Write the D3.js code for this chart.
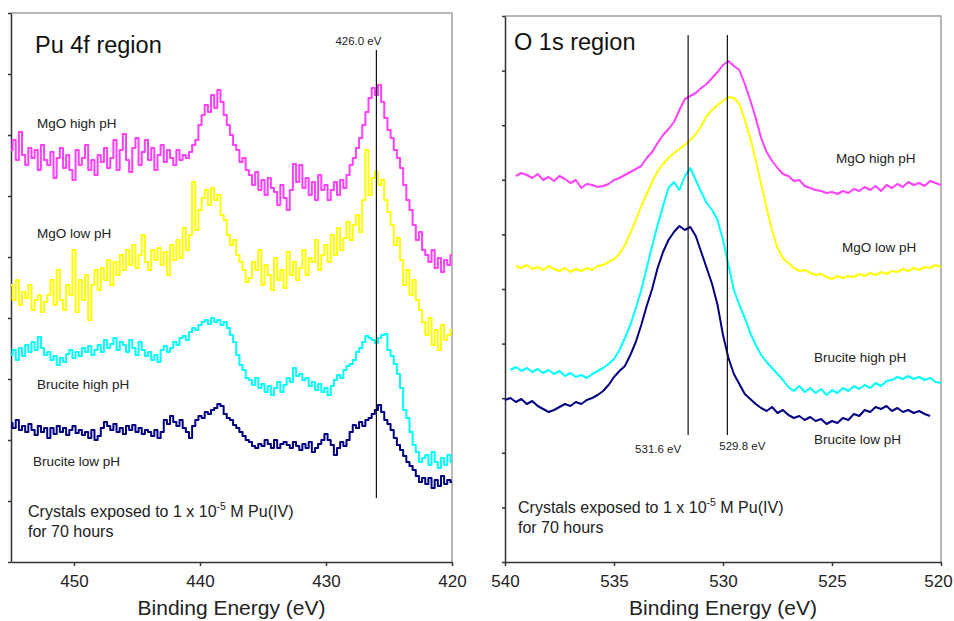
<html>
<head>
  <style>
    body {
      margin: 0;
      background: white;
      font-family: "Liberation Sans", Arial, Helvetica, sans-serif;
    }
  </style>
  <script src="https://cdn.jsdelivr.net/npm/d3@7"></script>
</head>
<body>
<svg id="chart" width="954" height="621"></svg>
<script>
  // ---- data (intensities in arbitrary counts) ----
  // Pu 4f region: sampled every 0.25 eV from 455 eV down to 420 eV
  const puStart = 455, puStep = 0.25
  const puMgoHigh = [412,422,402,430,407,397,414,404,412,392,417,402,
    397,410,384,404,414,394,407,392,382,412,397,404,417,392,402,387,407,400,414,394,
    404,422,392,412,428,402,390,414,424,397,410,422,402,414,392,407,417,400,412,404,397,412,402,407,
    404,410,417,422, 437,447, 457,450,467,454,472,460, 447,437,427,417, 412,400,404,392,
    387,377,390,372,382,367,384,374, 370,357,377,364,352,372,398,380,
    397,374,384,367,380,362,387,372, 377,362,372,380,367,382,374,387,
    397,404,414,424, 437,450, 464,474,467,477, 460,444, 432,424,412,404,
    394,377,362,352, 337,322,330,312, 307,300,312,294,304,290,302,297,307]
  const puMgoLow = [277,262,282,257,270,264,277,252,262,267,250,260,
    267,282,257,292,262,252,277,267,312,250,282,262,
    287,242,277,292,272,294,282,302,277,300,287,307,
    292,312,297,317,294,307,327,300,292,312,302,314,
    297,310,287,317,302,322,304,334, 312,327,380,332,
    352,364,372,357,374,362,367,347, 342,327,317,322, 307,300,292,280,
    284,300,292,312,277,297,287,272, 304,282,292,274,310,287,300,282,
    294,312,287,304,300,322,292,307, 317,300,327,307,334,312,324,340,
    322,337,347,330, 362,412,367,384, 390,377,382,362, 350,337,317,324,
    302,277,292,267, 282,262,252,240, 227,244,217,232,212,237,222,227,232]
  const puBruciteHigh = [207,212,202,214,206,217,210,220,212,225,214,207,
    210,202,206,197,204,200,208,212,204,210,206,214,
    210,216,207,212,217,210,222,214,218,224,212,220,
    217,210,222,214,207,220,212,206,210,202,207,200,
    212,216,210,214,220,217,224,226, 222,230,234,232,
    237,240,242,238,244,240,242,237, 240,234,227,220, 207,197,192,184,
    182,177,184,174,178,170,176,167, 174,180,170,177,184,180,194,186,
    188,182,184,176,180,172,178,170, 174,167,176,182,187,184,192,196,
    198,202,210,214, 220,226,224,222, 219,224,227,228, 212,206,198,188,
    174,152,144,130, 117,110,100,104, 107,97,110,100,94,104,97,107,100]
  const puBruciteLow = [139,134,142,132,136,130,138,132,127,136,130,134,
    124,134,128,136,130,134,127,132,136,129,132,127,
    130,124,132,122,126,134,140,136,132,138,130,134,
    128,136,132,137,130,134,128,132,130,126,132,124,
    130,142,138,146,140,136,142,134, 130,124,136,142,
    146,144,150,148,152,154,158,156, 148,144,142,137, 134,130,126,122,
    120,116,114,118,116,122,118,114, 122,114,118,120,117,114,120,116,
    112,118,114,120,110,114,118,122, 128,122,117,107,114,120,116,122,
    130,137,134,140, 136,142,144,148, 152,157,150,142, 138,132,124,117,
    112,106,100,96, 92,86,80,84, 78,84,74,82,76,86,78,82,80]

  // O 1s region: sampled every 0.25 eV, each series with its own first energy
  const oStep = 0.25
  const oStarts = [539.5, 539.5, 539.75, 540]
  const oMgoHigh = [386,389,387,384,388,382,385,381,386,383,
    379,382,374,378,377,375,376,378,382,384,
    387,390,393,396,404,410,419,427,433,440,
    452,463,466,469,474,478,484,490,497,501,
    496,492,478,462,444,424,410,401,394,388,
    386,381,382,376,374,372,371,369,370,368,
    371,369,373,371,375,372,376,371,377,374,
    378,375,380,377,379,376,381,379,377]
  const oMgoLow = [296,294,297,293,295,292,296,293,291,294,
    290,293,291,294,292,296,297,300,303,308,
    317,329,342,356,368,380,391,398,404,409,
    413,417,422,428,436,446,452,457,461,465,
    464,458,442,424,402,378,354,332,314,304,
    299,294,291,292,289,287,288,285,283,286,
    284,286,285,288,286,289,287,290,288,291,
    290,293,291,294,292,295,294,297,295]
  const oBruciteHigh = [192,195,191,194,190,193,189,192,188,191,
    186,189,185,187,184,188,191,194,198,203,
    212,224,237,254,272,294,316,337,356,374,
    380,372,386,394,382,370,359,352,342,322,
    297,272,257,244,229,217,207,200,194,188,
    182,175,171,176,170,174,169,173,167,172,
    169,174,171,176,173,177,174,179,176,181,
    182,185,183,186,183,185,182,184,180,179]
  const oBruciteLow = [162,164,160,163,158,161,156,153,150,152,
    155,158,156,160,158,162,164,167,171,177,
    185,191,196,207,220,237,256,273,294,310,
    322,330,336,332,335,326,310,294,278,257,
    227,204,188,178,168,163,158,154,151,155,
    149,152,147,144,146,142,145,141,143,138,
    141,139,144,142,148,146,152,150,155,153,
    156,151,154,150,152,149,151,148,146]

  const seriesNames = ["MgO high pH", "MgO low pH", "Brucite high pH", "Brucite low pH"]
  const seriesColors = ["#ff40ff", "#ffff00", "#00ffff", "#000080"]

  const puTicks = [450, 440, 430, 420]
  const oTicks = [540, 535, 530, 525, 520]
  const puPeaks = [426.0]
  const oPeaks = [531.6, 529.8]

  // ---- layout ----
  let svg = d3.select("#chart")

  let panels = [
    {
      title: "Pu 4f region", titleX: 35, titleY: 53,
      domain: [455, 420], left: 11, right: 452, top: 13, bottom: 562,
      yMax: 549, yStep: 61, ticks: puTicks, curve: d3.curveStep,
      series: [puMgoHigh, puMgoLow, puBruciteHigh, puBruciteLow].map(v => ({ start: puStart, step: puStep, values: v })),
      labels: [[37, 128], [37, 238], [37, 389], [33, 466]],
      peaks: puPeaks, peakTop: 50, peakBottom: 498,
      peakLabels: [{ dx: -18, y: 45 }],
      noteX: 28, noteY: 517
    },
    {
      title: "O 1s region", titleX: 514, titleY: 50,
      domain: [540, 520], left: 505, right: 941, top: 16, bottom: 562,
      yMax: 546, yStep: 54.6, ticks: oTicks, curve: d3.curveLinear,
      series: [oMgoHigh, oMgoLow, oBruciteHigh, oBruciteLow].map((v, i) => ({ start: oStarts[i], step: oStep, values: v })),
      labels: [[836, 163], [842, 252], [814, 362], [814, 444]],
      peaks: oPeaks, peakTop: 35, peakBottom: 435,
      peakLabels: [{ dx: -30, y: 453 }, { dx: 15, y: 450 }],
      noteX: 518, noteY: 513
    }
  ]

  panels.forEach(drawPanel)

  function drawPanel(p) {
    let x = d3.scaleLinear().domain(p.domain).range([p.left, p.right])
    let y = d3.scaleLinear().domain([0, p.yMax]).range([p.bottom, p.top])
    let g = svg.append("g")

    // grey frame on top and right
    g.append("path")
      .attr("d", `M${p.left},${p.top}H${p.right}V${p.bottom}`)
      .attr("fill", "none")
      .attr("stroke", "#a0a0a0")
      .attr("stroke-width", 1.5)

    // y axis: unlabelled ticks
    let axisY = d3.axisLeft(y)
      .tickValues(d3.range(0, p.yMax + 1, p.yStep))
      .tickSize(3).tickSizeOuter(0).tickFormat("")
    g.append("g")
      .attr("transform", `translate(${p.left},0)`)
      .call(axisY)
      .call(a => a.selectAll("path, line").attr("stroke", "#333").attr("stroke-width", 1.5))

    // x axis
    let axisX = d3.axisBottom(x)
      .tickValues(p.ticks).tickSize(4).tickSizeOuter(0).tickPadding(9)
      .tickFormat(d3.format("d"))
    g.append("g")
      .attr("transform", `translate(0,${p.bottom})`)
      .call(axisX)
      .call(a => a.selectAll("path, line").attr("stroke", "#333").attr("stroke-width", 1.5))
      .call(a => a.selectAll("text")
        .attr("font-size", 17)
        .attr("font-family", "'Liberation Sans', Arial, sans-serif")
        .attr("fill", "#222")
        .attr("dx", d => x(d) > 930 ? -3 : 0))

    g.append("text")
      .attr("x", (p.left + p.right) / 2)
      .attr("y", 615)
      .attr("text-anchor", "middle")
      .attr("font-size", 21)
      .attr("fill", "#222")
      .text("Binding Energy (eV)")

    // spectra
    let line = d3.line()
      .x(d => x(d.e))
      .y(d => y(d.v))
      .curve(p.curve)

    p.series.forEach((s, i) => {
      let pts = s.values.map((v, k) => ({ e: s.start - k * s.step, v: v }))
      g.append("path")
        .datum(pts)
        .attr("d", line)
        .attr("fill", "none")
        .attr("stroke", seriesColors[i])
        .attr("stroke-width", 2)
        .attr("stroke-linejoin", "round")
    })

    // peak position lines
    p.peaks.forEach((e, i) => {
      g.append("line")
        .attr("x1", x(e)).attr("x2", x(e))
        .attr("y1", p.peakTop).attr("y2", p.peakBottom)
        .attr("stroke", "#111")
        .attr("stroke-width", 1.2)
      g.append("text")
        .attr("x", x(e) + p.peakLabels[i].dx)
        .attr("y", p.peakLabels[i].y)
        .attr("text-anchor", "middle")
        .attr("font-size", 11.5)
        .attr("fill", "#222")
        .text(e.toFixed(1) + " eV")
    })

    // series labels
    seriesNames.forEach((name, i) => {
      g.append("text")
        .attr("x", p.labels[i][0])
        .attr("y", p.labels[i][1])
        .attr("font-size", 13.5)
        .attr("fill", "#222")
        .text(name)
    })

    // region title
    g.append("text")
      .attr("x", p.titleX)
      .attr("y", p.titleY)
      .attr("font-size", 23.5)
      .attr("fill", "#111")
      .text(p.title)

    // exposure note
    let note = g.append("text")
      .attr("x", p.noteX)
      .attr("y", p.noteY)
      .attr("font-size", 16)
      .attr("fill", "#222")
    note.append("tspan").text("Crystals exposed to 1 x 10")
    note.append("tspan").attr("font-size", 10.5).attr("dy", -7).text("-5")
    note.append("tspan").attr("dy", 7).text(" M Pu(IV)")
    g.append("text")
      .attr("x", p.noteX)
      .attr("y", p.noteY + 20)
      .attr("font-size", 16)
      .attr("fill", "#222")
      .text("for 70 hours")
  }
</script>
</body>
</html>
